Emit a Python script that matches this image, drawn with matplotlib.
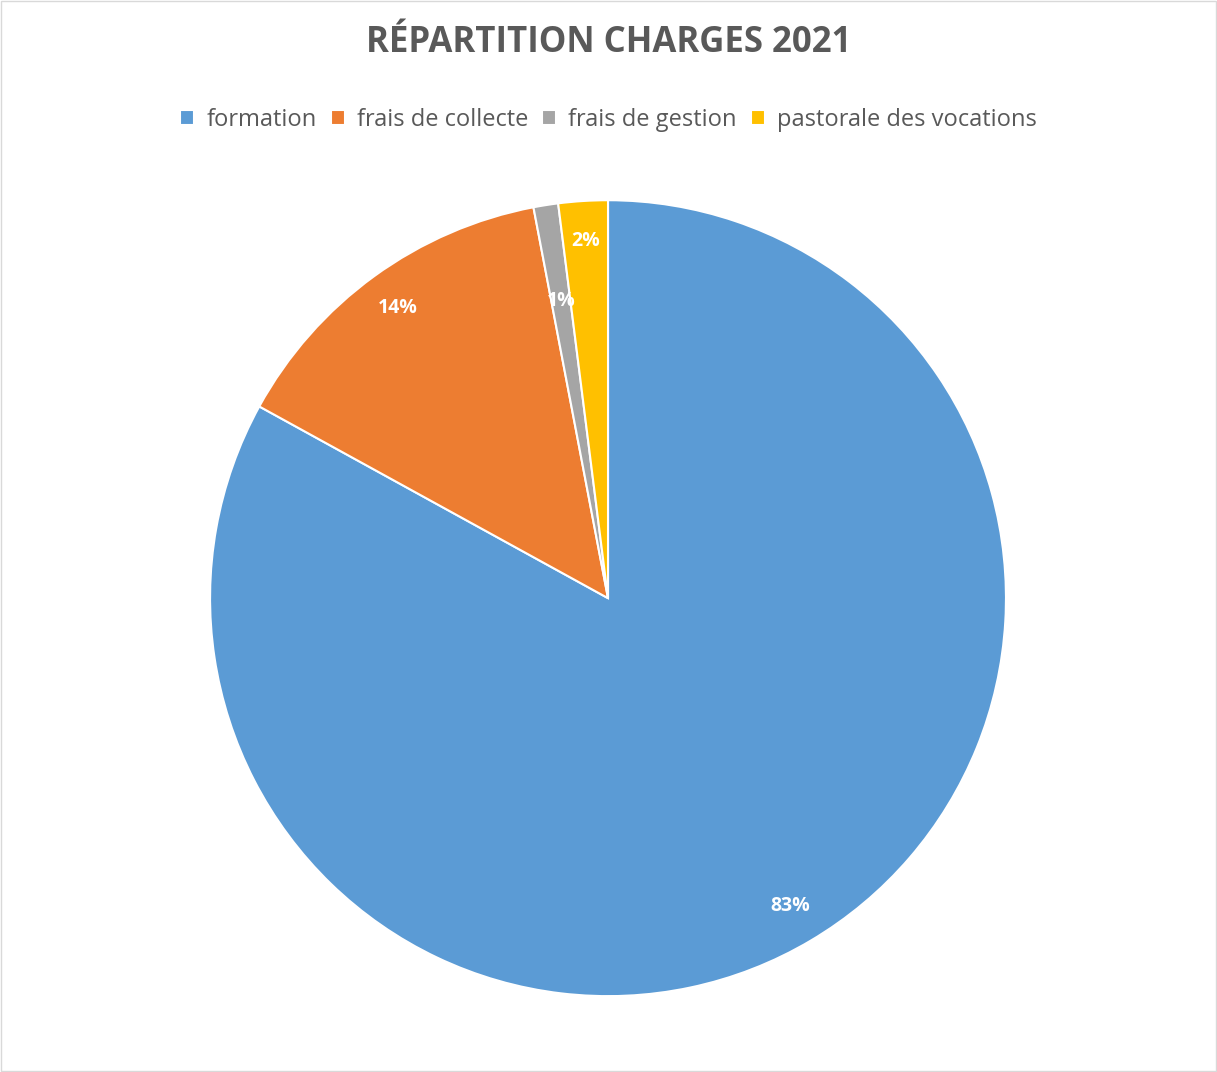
import matplotlib
matplotlib.use("Agg")
import matplotlib.pyplot as plt
from matplotlib.patches import Rectangle

categories = ["formation", "frais de collecte", "frais de gestion", "pastorale des vocations"]
values = [83, 14, 1, 2]
colors = ["#5B9BD5", "#ED7D31", "#A5A5A5", "#FFC000"]
title = "RÉPARTITION CHARGES 2021"

plt.rcParams["font.family"] = "Open Sans"
fig = plt.figure(figsize=(12.17, 10.72), dpi=100)
fig.patches.append(Rectangle((0.001, 0.001), 0.998, 0.998, transform=fig.transFigure,
                             fill=False, edgecolor="#D9D9D9", linewidth=1))
ax = fig.add_axes([0.4996 - 0.327, 0.442 - 0.37125, 0.654, 0.7425])
wedges, texts, autotexts = ax.pie(values, colors=colors, startangle=90, counterclock=False,
                                  autopct="%d%%", pctdistance=0.9,
                                  wedgeprops=dict(edgecolor="white", linewidth=1.5),
                                  textprops=dict(color="white", fontsize=14, fontweight="bold"))
autotexts[2].set_position((autotexts[2].get_position()[0] * 0.84, autotexts[2].get_position()[1] * 0.84))
ax.set_xlim(-1, 1)
ax.set_ylim(-1, 1)
ax.set_aspect("equal")
fig.text(0.5, 0.96, title, ha="center", va="center", fontsize=25, fontweight="bold", color="#595959")
fig.legend(wedges, categories, loc="center", bbox_to_anchor=(0.5, 0.888), ncol=4, frameon=False,
           fontsize=17, labelcolor="#595959", handlelength=0.6, handleheight=0.6,
           handletextpad=0.5, columnspacing=0.6)
fig.savefig("out.png", dpi=100)
